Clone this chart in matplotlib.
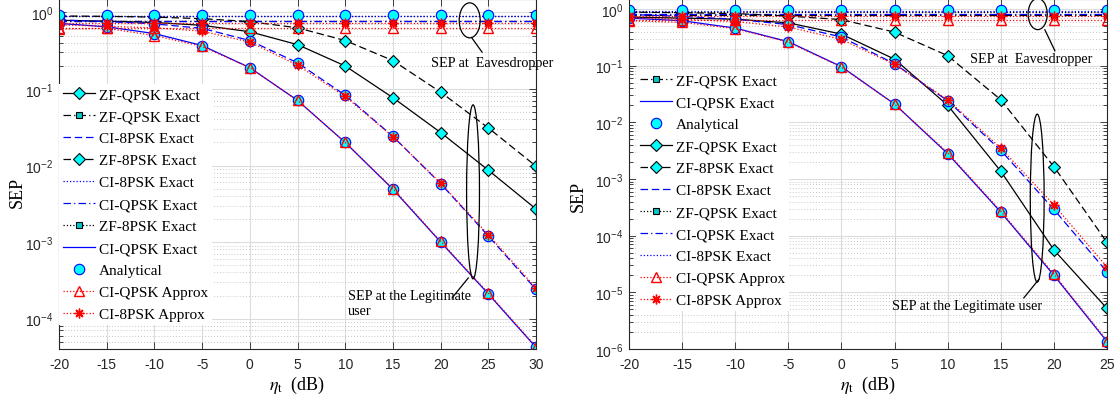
import matplotlib
matplotlib.use('Agg')
import matplotlib.pyplot as plt
import matplotlib.ticker as mticker
from matplotlib.patches import Ellipse

plt.rcParams['font.family'] = 'Liberation Sans'
plt.rcParams['mathtext.fontset'] = 'stix'
plt.rcParams['axes.unicode_minus'] = False
SERIF = 'Liberation Serif'

# ---- left panel ----
snr_l = [-20, -15, -10, -5, 0, 5, 10, 15, 20, 25, 30]
zf_qpsk_l = [0.79, 0.77, 0.74, 0.68, 0.56, 0.38, 0.20, 0.077, 0.027, 0.0087, 0.0027]
zf_8psk_l = [0.90, 0.89, 0.87, 0.83, 0.76, 0.63, 0.43, 0.235, 0.091, 0.031, 0.0098]
ci_qpsk_l = [0.72, 0.65, 0.53, 0.37, 0.19, 0.071, 0.020, 0.0049, 1.0e-3, 2.1e-4, 4.2e-5]
ci_8psk_l = [0.80, 0.76, 0.71, 0.62, 0.43, 0.22, 0.083, 0.0240, 0.0058, 1.2e-3, 2.4e-4]
ap_qpsk_l = [0.61, 0.62, 0.50, 0.36, 0.19, 0.071, 0.020, 0.0050, 1.02e-3, 2.15e-4, 4.3e-5]
ap_8psk_l = [0.69, 0.66, 0.63, 0.57, 0.41, 0.205, 0.080, 0.0238, 0.0059, 1.25e-3, 2.5e-4]
eve_zf_qpsk_l = [0.77, 0.77, 0.77, 0.77, 0.77, 0.77, 0.77, 0.77, 0.77, 0.77, 0.77]
eve_zf_8psk_l = [0.89, 0.89, 0.89, 0.89, 0.89, 0.89, 0.89, 0.89, 0.89, 0.89, 0.89]
eve_ci_qpsk_l = [0.78, 0.78, 0.78, 0.78, 0.78, 0.78, 0.78, 0.78, 0.78, 0.78, 0.78]
eve_ci_8psk_l = [0.91, 0.91, 0.91, 0.91, 0.91, 0.91, 0.91, 0.91, 0.91, 0.91, 0.91]
eve_an_l = [0.94, 0.94, 0.94, 0.94, 0.94, 0.94, 0.94, 0.94, 0.94, 0.94, 0.94]
eve_ap_qpsk_l = [0.63, 0.63, 0.63, 0.63, 0.63, 0.63, 0.63, 0.63, 0.63, 0.63, 0.63]
eve_ap_8psk_l = [0.72, 0.72, 0.72, 0.72, 0.72, 0.72, 0.72, 0.72, 0.72, 0.72, 0.72]

# ---- right panel ----
snr_r = [-20, -15, -10, -5, 0, 5, 10, 15, 20, 25]
zf_qpsk_r = [0.72, 0.69, 0.66, 0.57, 0.36, 0.13, 0.020, 1.37e-3, 5.6e-5, 5.2e-6]
zf_8psk_r = [0.88, 0.86, 0.83, 0.75, 0.65, 0.39, 0.15, 0.025, 1.65e-3, 7.6e-5]
ci_qpsk_r = [0.69, 0.62, 0.46, 0.265, 0.096, 0.021, 0.0028, 2.6e-4, 2.0e-5, 1.35e-6]
ci_8psk_r = [0.80, 0.74, 0.66, 0.53, 0.32, 0.108, 0.024, 0.0032, 2.9e-4, 2.3e-5]
ap_qpsk_r = [0.62, 0.58, 0.45, 0.26, 0.094, 0.021, 0.0029, 2.7e-4, 2.1e-5, 1.4e-6]
ap_8psk_r = [0.70, 0.66, 0.60, 0.48, 0.29, 0.105, 0.025, 0.0035, 3.5e-4, 2.8e-5]
eve_zf_qpsk_r = [0.79, 0.79, 0.79, 0.79, 0.79, 0.79, 0.79, 0.79, 0.79, 0.79]
eve_zf_8psk_r = [0.90, 0.90, 0.90, 0.90, 0.90, 0.90, 0.90, 0.90, 0.90, 0.90]
eve_ci_qpsk_r = [0.80, 0.80, 0.80, 0.80, 0.80, 0.80, 0.80, 0.80, 0.80, 0.80]
eve_ci_8psk_r = [0.92, 0.92, 0.92, 0.92, 0.92, 0.92, 0.92, 0.92, 0.92, 0.92]
eve_an_r = [0.96, 0.96, 0.96, 0.96, 0.96, 0.96, 0.96, 0.96, 0.96, 0.96]
eve_ap_qpsk_r = [0.64, 0.64, 0.64, 0.64, 0.64, 0.64, 0.64, 0.64, 0.64, 0.64]
eve_ap_8psk_r = [0.74, 0.74, 0.74, 0.74, 0.74, 0.74, 0.74, 0.74, 0.74, 0.74]

labels_l = ['ZF-QPSK Exact', 'ZF-QPSK Exact', 'CI-8PSK Exact', 'ZF-8PSK Exact',
            'CI-8PSK Exact', 'CI-QPSK Exact', 'ZF-8PSK Exact', 'CI-QPSK Exact',
            'Analytical', 'CI-QPSK Approx', 'CI-8PSK Approx']
keys_l = ['zf_qpsk', 'eve_zf_qpsk', 'ci_8psk', 'zf_8psk', 'eve_ci_8psk', 'eve_ci_qpsk',
          'eve_zf_8psk', 'ci_qpsk', 'an', 'ap_qpsk', 'ap_8psk']
labels_r = ['ZF-QPSK Exact', 'CI-QPSK Exact', 'Analytical', 'ZF-QPSK Exact',
            'ZF-8PSK Exact', 'CI-8PSK Exact', 'ZF-QPSK Exact', 'CI-QPSK Exact',
            'CI-8PSK Exact', 'CI-QPSK Approx', 'CI-8PSK Approx']
keys_r = ['eve_zf_qpsk', 'ci_qpsk', 'an', 'zf_qpsk', 'zf_8psk', 'ci_8psk', 'eve_zf_8psk',
          'eve_ci_qpsk', 'eve_ci_8psk', 'ap_qpsk', 'ap_8psk']

DASH = (6, 3)
DASHDOT = (6, 2.5, 1, 2.5)
DOT = (1, 1.6)
LW = 0.9
CYAN = '#00FFFF'
ASTER = (8, 2, 0)


def panel(ax, x, zf_q, zf_8, ci_q, ci_8, ap_q, ap_8, e_zq, e_z8, e_cq, e_c8, e_an, e_aq, e_a8):
    h = {}
    # eavesdropper lines
    h['eve_zf_qpsk'], = ax.plot(x, e_zq, color='k', lw=LW, dashes=DASHDOT, marker='s', ms=5,
                                mfc='#00C8C8', mec='k', mew=0.8)
    h['eve_zf_8psk'], = ax.plot(x, e_z8, color='k', lw=LW, dashes=DOT, marker='s', ms=5,
                                mfc='#00C8C8', mec='k', mew=0.8)
    h['eve_ci_qpsk'], = ax.plot(x, e_cq, color='b', lw=LW, dashes=DASHDOT)
    h['eve_ci_8psk'], = ax.plot(x, e_c8, color='b', lw=LW, dashes=DOT)
    # legitimate user
    h['zf_qpsk'], = ax.plot(x, zf_q, color='k', lw=LW, ls='-', marker='D', ms=6.5,
                            mfc=CYAN, mec='k', mew=0.8)
    h['zf_8psk'], = ax.plot(x, zf_8, color='k', lw=LW, dashes=DASH, marker='D', ms=6.5,
                            mfc=CYAN, mec='k', mew=0.8)
    h['ci_qpsk'], = ax.plot(x, ci_q, color='b', lw=LW, ls='-')
    h['ci_8psk'], = ax.plot(x, ci_8, color='b', lw=LW, dashes=DASH)
    # analytical points
    for y in (ci_q, ci_8, e_an):
        h['an'], = ax.plot(x, y, ls='none', marker='o', ms=7.5, mfc=CYAN, mec='b', mew=0.8)
    # approximations
    for y in (ap_q, e_aq):
        h['ap_qpsk'], = ax.plot(x, y, color='r', lw=LW, dashes=DOT, marker='^', ms=7.5,
                                mfc='none', mec='r', mew=1.0)
    for y in (ap_8, e_a8):
        h['ap_8psk'], = ax.plot(x, y, color='r', lw=LW, dashes=DOT, marker=ASTER, ms=7,
                                mfc='r', mec='r', mew=1.0)

    ax.set_yscale('log')
    ax.set_xlim(x[0], x[-1])
    ax.set_xticks(x)
    ax.yaxis.set_major_locator(mticker.LogLocator(base=10, numticks=20))
    ax.yaxis.set_minor_locator(mticker.LogLocator(base=10, subs=range(2, 10), numticks=20))
    ax.yaxis.set_minor_formatter(mticker.NullFormatter())
    ax.grid(True, which='major', color='#dcdcdc', lw=0.8, ls='-')
    ax.grid(True, which='minor', axis='y', color='#b4b4b4', lw=0.6, ls=(0, (1, 2.5)))
    ax.set_axisbelow(True)
    ax.tick_params(which='both', direction='in', top=True, right=True, colors='#262626',
                   labelsize=10, width=0.6)
    ax.tick_params(which='major', length=5)
    ax.tick_params(which='minor', length=3)
    ax.tick_params(axis='x', pad=6)
    ax.tick_params(axis='y', pad=4)
    for s in ax.spines.values():
        s.set_color('#262626')
        s.set_linewidth(0.8)
    ax.set_xlabel(r'$\eta_\mathrm{t}$  (dB)', fontsize=13, family=SERIF, labelpad=2)
    ax.set_ylabel('SEP', fontsize=13, family=SERIF)
    return h


def add_legend(ax, h, keys, labels, anchor):
    leg = ax.legend([h[k] for k in keys], labels, loc='upper left', bbox_to_anchor=anchor,
                    borderaxespad=0, borderpad=0.25, labelspacing=0.54, handlelength=2.1,
                    handletextpad=0.25, prop={'family': SERIF, 'size': 11},
                    frameon=True, fancybox=False, framealpha=1, facecolor='white',
                    edgecolor='none', numpoints=1)
    return leg


def note(ax, text, xy_text, ell, line, ha='left'):
    ax.add_patch(Ellipse(ell[:2], ell[2], ell[3], transform=ax.transAxes, fill=False,
                         ec='k', lw=0.9, clip_on=False, zorder=6))
    ax.plot(line[0], line[1], color='k', lw=0.9, transform=ax.transAxes, clip_on=False,
            zorder=6)
    ax.text(xy_text[0], xy_text[1], text, transform=ax.transAxes, family=SERIF,
            fontsize=10.2, ha=ha, va='center', linespacing=1.25, zorder=6)


fig = plt.figure(figsize=(11.17, 4.06), dpi=100)
ax1 = fig.add_axes([59 / 1117, 56 / 406, 477 / 1117, 350 / 406])
ax2 = fig.add_axes([629 / 1117, 56 / 406, 478 / 1117, 350 / 406])

h1 = panel(ax1, snr_l, zf_qpsk_l, zf_8psk_l, ci_qpsk_l, ci_8psk_l, ap_qpsk_l, ap_8psk_l,
           eve_zf_qpsk_l, eve_zf_8psk_l, eve_ci_qpsk_l, eve_ci_8psk_l, eve_an_l,
           eve_ap_qpsk_l, eve_ap_8psk_l)
ax1.set_ylim(4e-5, 1.5)
ax1.yaxis.set_label_coords(-0.07, 0.45)
add_legend(ax1, h1, keys_l, labels_l, (0.0, 0.757))
note(ax1, 'SEP at  Eavesdropper', (0.78, 0.82), (0.861, 0.939, 0.044, 0.10),
     ([0.866, 0.887], [0.888, 0.848]))
note(ax1, 'SEP at the Legitimate\nuser', (0.606, 0.131), (0.868, 0.449, 0.027, 0.497),
     ([0.858, 0.824], [0.203, 0.146]))

h2 = panel(ax2, snr_r, zf_qpsk_r, zf_8psk_r, ci_qpsk_r, ci_8psk_r, ap_qpsk_r, ap_8psk_r,
           eve_zf_qpsk_r, eve_zf_8psk_r, eve_ci_qpsk_r, eve_ci_8psk_r, eve_an_r,
           eve_ap_qpsk_r, eve_ap_8psk_r)
ax2.set_ylim(1e-6, 1.5)
ax2.yaxis.set_label_coords(-0.088, 0.44)
add_legend(ax2, h2, keys_r, labels_r, (0.015, 0.797))
note(ax2, 'SEP at  Eavesdropper', (0.714, 0.829), (0.855, 0.957, 0.040, 0.089),
     ([0.870, 0.891], [0.912, 0.852]))
note(ax2, 'SEP at the Legitimate user', (0.550, 0.124), (0.854, 0.431, 0.029, 0.48),
     ([0.858, 0.826], [0.200, 0.146]))

fig.savefig('out.png', dpi=100)
